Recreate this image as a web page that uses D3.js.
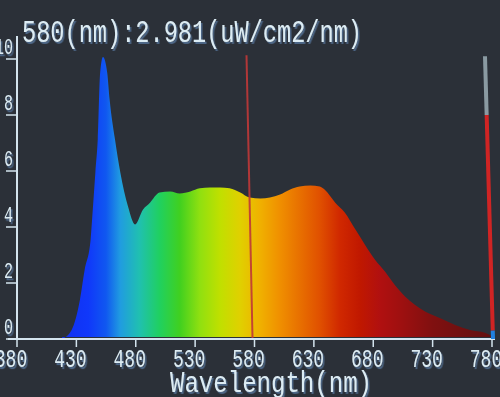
<!DOCTYPE html>
<html>
<head>
<meta charset="utf-8">
<script src="https://cdn.jsdelivr.net/npm/d3@7"></script>
<style>
  body { margin: 0; background: #2b3038; }
  svg { display: block; }
</style>
</head>
<body>
<div id="chart"></div>
<script>
// spectrum (wavelength in nm, intensity in axis units)
var wavelengths = [418, 426, 433, 437, 442, 444, 446, 448, 450, 452.4, 456, 458, 462.5, 467, 473.5, 479.4, 486, 492, 500, 509,
  517, 526, 534, 542.5, 551, 559, 568, 576, 585, 593, 601.5, 610, 618, 627, 635, 639, 648, 656, 665, 673,
  681.5, 690, 698, 707, 715, 724, 736, 749, 761.5, 774, 780];
var intensity = [0, 0.32, 1.4, 2.47, 3.55, 4.73, 5.95, 7.13, 9.5, 10.07, 9.5, 8.55, 7.13, 5.95, 4.73, 4.09, 4.62, 4.87, 5.23, 5.27,
  5.2, 5.27, 5.38, 5.41, 5.41, 5.38, 5.23, 5.05, 5.02, 5.05, 5.16, 5.34, 5.45, 5.48, 5.45, 5.34, 4.87, 4.52, 3.91, 3.37,
  2.83, 2.4, 1.94, 1.51, 1.22, 0.97, 0.75, 0.5, 0.32, 0.22, 0.1];

var xTicks = [380, 430, 480, 530, 580, 630, 680, 730, 780];
var yTicks = [0, 2, 4, 6, 8, 10];

// cursor readout and level meter
var cursorNm = 580;
var cursorValue = 2.981;
var levelMax = 10.1;
var levelValue = 8.0;
var levelLow = 0.3;

// colour of the fill along the wavelength axis
var stopNm = [418, 440, 455, 467, 483, 500, 517, 534, 551, 568, 585, 601, 618, 635, 652, 669, 686, 702, 730, 780];
var stopColor = ["#1030f0", "#1038fa", "#1058f0", "#209ce0", "#20c0b0", "#20d060", "#40d020", "#90e010", "#c0e000", "#e0d000",
  "#f0b000", "#f09000", "#e87000", "#e05000", "#d02800", "#c01800", "#b01010", "#a01010", "#801010", "#601010"];

var width = 500, height = 397;

var svg = d3.select("#chart")
  .append("svg")
    .attr("width", width)
    .attr("height", height);

svg.append("rect")
  .attr("width", width)
  .attr("height", height)
  .attr("fill", "#2b3038");

var x = d3.scaleLinear().domain([380, 780]).range([17, 492]);
var y = d3.scaleLinear().domain([0, 10]).range([339, 59]);

var textColor = "#dcecf4";
var font = "'Liberation Mono', 'DejaVu Sans Mono', monospace";

var defs = svg.append("defs");

// gradient
var grad = defs.append("linearGradient")
  .attr("id", "spec")
  .attr("gradientUnits", "userSpaceOnUse")
  .attr("x1", x(380)).attr("x2", x(780))
  .attr("y1", 0).attr("y2", 0);
grad.selectAll("stop")
  .data(stopNm)
  .enter()
  .append("stop")
    .attr("offset", function(d) { return (d - 380) / 400; })
    .attr("stop-color", function(d, i) { return stopColor[i]; });

// bluish drop shadow of the screen font
var shadow = defs.append("filter")
  .attr("id", "shadow")
  .attr("x", "-10%").attr("y", "-20%")
  .attr("width", "130%").attr("height", "150%");
shadow.append("feDropShadow")
  .attr("dx", 1.5).attr("dy", 1.5)
  .attr("stdDeviation", 0.4)
  .attr("flood-color", "#4e6888")
  .attr("flood-opacity", 1);

var data = wavelengths.map(function(w, i) { return {w: w, v: intensity[i]}; });

var area = d3.area()
  .x(function(d) { return x(d.w); })
  .y0(y(0) - 2)
  .y1(function(d) { return y(d.v); })
  .curve(d3.curveMonotoneX);

svg.append("path")
  .datum(data)
  .attr("d", area)
  .attr("fill", "url(#spec)");

// tall, narrow screen font
function label(txt, tx, ty, size, sy, anchor, len) {
  var t = svg.append("text")
    .attr("transform", "translate(" + tx + "," + ty + ") scale(1," + sy + ")")
    .attr("font-family", font)
    .attr("font-size", size)
    .attr("text-anchor", anchor)
    .attr("fill", textColor)
    .attr("filter", "url(#shadow)")
    .text(txt);
  if (len) t.attr("textLength", len).attr("lengthAdjust", "spacingAndGlyphs");
  return t;
}

// axes
var axisColor = "#d4e4ee";
svg.append("line")
  .attr("x1", 8).attr("x2", 495)
  .attr("y1", y(0)).attr("y2", y(0))
  .attr("stroke", axisColor).attr("stroke-width", 2);
svg.append("line")
  .attr("x1", x(380)).attr("x2", x(380))
  .attr("y1", 36).attr("y2", y(0))
  .attr("stroke", axisColor).attr("stroke-width", 2);

svg.selectAll(".xt")
  .data(xTicks)
  .enter()
  .append("line")
    .attr("x1", function(d) { return x(d); })
    .attr("x2", function(d) { return x(d); })
    .attr("y1", y(0)).attr("y2", y(0) + 8)
    .attr("stroke", axisColor).attr("stroke-width", 1.5);

xTicks.forEach(function(d) {
  label(String(d), x(d) - 6, 367, 18, 1.4, "middle");
});

svg.selectAll(".yt")
  .data(yTicks)
  .enter()
  .append("line")
    .attr("x1", 6).attr("x2", x(380))
    .attr("y1", function(d) { return y(d); })
    .attr("y2", function(d) { return y(d); })
    .attr("stroke", axisColor).attr("stroke-width", 1.5);

yTicks.forEach(function(d) {
  label(String(d), 13, y(d) - 5, 15, 1.5, "end");
});

// cursor line
svg.append("line")
  .attr("x1", x(cursorNm) - 8).attr("x2", x(cursorNm) - 2)
  .attr("y1", y(levelMax) - 1).attr("y2", y(0) - 1)
  .attr("stroke", "#c03838").attr("stroke-width", 2)
  .attr("opacity", 0.9);

// level meter at the right edge
var meter = [[levelMax, levelValue, "#8a9aa2"], [levelValue, levelLow, "#d02424"], [levelLow, 0, "#2080e0"]];
var mx = d3.scaleLinear().domain([levelMax, 0]).range([485, 493]);
meter.forEach(function(m) {
  svg.append("line")
    .attr("x1", mx(m[0])).attr("x2", mx(m[1]))
    .attr("y1", y(m[0])).attr("y2", y(m[1]))
    .attr("stroke", m[2]).attr("stroke-width", 4);
});

// readout and axis title
label(cursorNm + "(nm):" + cursorValue + "(uW/cm2/nm)", 22, 42, 23.6, 1.3, "start", 340);
label("Wavelength(nm)", 271, 392, 24, 1.25, "middle", 202);
</script>
</body>
</html>
